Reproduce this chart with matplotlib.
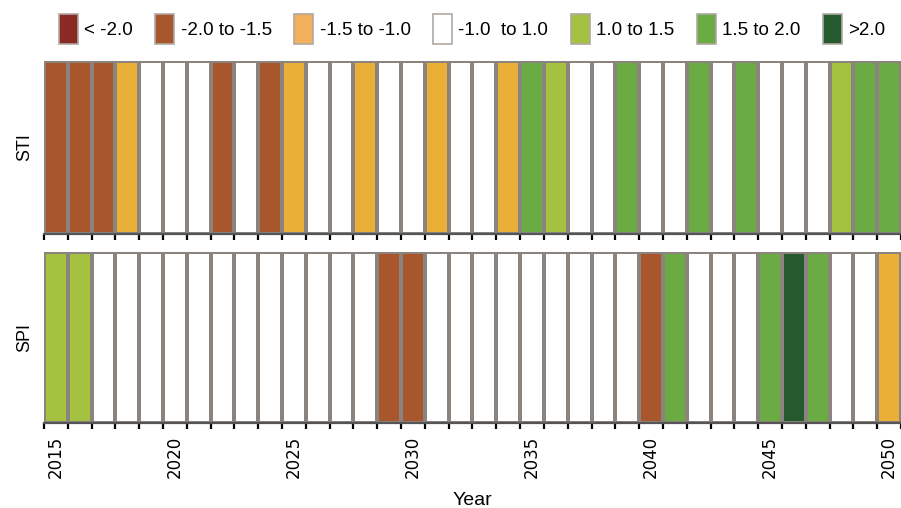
import numpy as np
import matplotlib
matplotlib.use("Agg")
import matplotlib.pyplot as plt
from matplotlib.colors import ListedColormap, BoundaryNorm
from matplotlib.patches import Patch

plt.rcParams['font.family'] = ['Liberation Sans', 'DejaVu Sans']

years = np.arange(2015, 2051)

# class per year: 0 "< -2.0" ... 3 "-1.0 to 1.0" ... 6 ">2.0"
class_labels = ['< -2.0', '-2.0 to -1.5', '-1.5 to -1.0', '-1.0  to 1.0',
                '1.0 to 1.5', '1.5 to 2.0', '>2.0']
class_colors = ['#8a2a25', '#a8572c', '#e9af36', '#ffffff',
                '#a4c13f', '#6aab44', '#255a2e']
legend_colors = ['#8a2a25', '#a8572c', '#f2b05c', '#ffffff',
                 '#a4c13f', '#6aab44', '#255a2e']

sti = [1, 1, 1, 2, 3, 3, 3, 1, 3, 1, 2, 3, 3, 2, 3, 3, 2, 3,
       3, 2, 5, 4, 3, 3, 5, 3, 3, 5, 3, 5, 3, 3, 3, 4, 5, 5]
spi = [4, 4, 3, 3, 3, 3, 3, 3, 3, 3, 3, 3, 3, 3, 1, 1, 3, 3,
       3, 3, 3, 3, 3, 3, 3, 1, 5, 3, 3, 3, 5, 6, 5, 3, 3, 2]

rows = [('STI', sti), ('SPI', spi)]

cmap = ListedColormap(class_colors)
norm = BoundaryNorm(np.arange(-0.5, 7.5), cmap.N)
edges = np.append(years - 0.5, years[-1] + 0.5)
label_years = years[::5]

fig = plt.figure(figsize=(9.01, 5.08), dpi=100)
axes_rect = [[0.0488, 0.540, 0.9512, 0.340],
             [0.0488, 0.167, 0.9512, 0.337]]

for (name, vals), rect in zip(rows, axes_rect):
    ax = fig.add_axes(rect)
    ax.pcolormesh(edges, [0, 1], np.array(vals)[None, :], cmap=cmap, norm=norm,
                  edgecolor='#8b847e', linewidth=1.5)
    ax.set_xlim(edges[0], edges[-1])
    ax.set_ylim(0, 1)
    ax.set_yticks([])
    ax.set_ylabel(name, fontsize=13, labelpad=8)
    for side in ['top', 'left', 'right']:
        ax.spines[side].set_visible(False)
    ax.spines['bottom'].set_color('#555555')
    ax.spines['bottom'].set_linewidth(1.6)
    ax.set_xticks(edges, minor=True)
    ax.tick_params(axis='x', which='minor', length=4.5, width=1.6,
                   color='black', direction='out')
    ax.set_xticks(label_years)
    ax.tick_params(axis='x', which='major', length=0, pad=9)
    if name == 'SPI':
        ax.set_xticklabels([str(y) for y in label_years], rotation=90,
                           fontsize=12, family='DejaVu Sans')
        ax.set_xlabel('Year', fontsize=14, labelpad=10)
    else:
        ax.set_xticklabels([])

handles = [Patch(facecolor=c, edgecolor='#b0a8a2', linewidth=1.2)
           for c in legend_colors]
fig.legend(handles, class_labels, loc='center', bbox_to_anchor=(0.524, 0.943),
           ncol=7, frameon=False, fontsize=13.5, handlelength=1.0,
           handleheight=2.1, handletextpad=0.35, columnspacing=1.2)

fig.savefig('out.png', dpi=100)
